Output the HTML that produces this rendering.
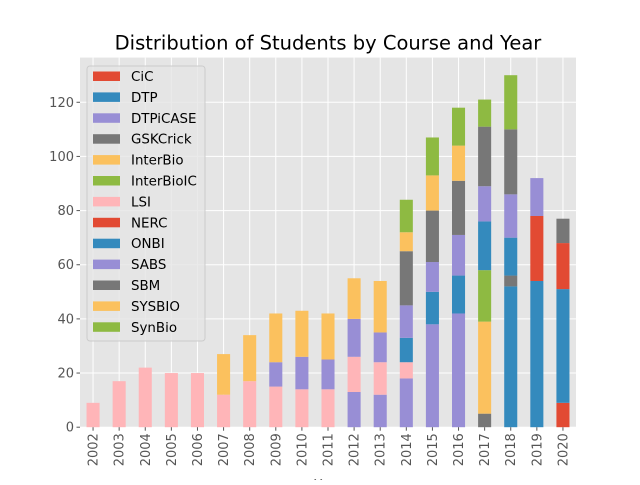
<!DOCTYPE html>
<html><head><meta charset="utf-8"><style>
body{margin:0;background:#fff;}
svg text{font-family:"DejaVu Sans","Liberation Sans",sans-serif;}
</style></head><body>
<svg id="chart" width="640" height="480" xmlns="http://www.w3.org/2000/svg">
<rect x="0" y="0" width="640" height="480" fill="#fff"/>
<rect x="80" y="57.6" width="496" height="369.6" fill="#E5E5E5"/>
<g id="grid"></g>
<g id="bars"></g>
<g id="axes"></g>
<text x="328" y="49.5" text-anchor="middle" font-size="19.5" fill="#000">Distribution of Students by Course and Year</text>
<text x="328" y="489" text-anchor="middle" font-size="13" fill="#555">Year</text>
<g id="legend"></g>
</svg>
<script>
const years = ["2002","2003","2004","2005","2006","2007","2008","2009","2010","2011","2012","2013","2014","2015","2016","2017","2018","2019","2020"];
const seriesNames = ["CiC","DTP","DTPiCASE","GSKCrick","InterBio","InterBioIC","LSI","NERC","ONBI","SABS","SBM","SYSBIO","SynBio"];
const seriesColors = ["#E24A33","#348ABD","#988ED5","#777777","#FBC15E","#8EBA42","#FFB5B8","#E24A33","#348ABD","#988ED5","#777777","#FBC15E","#8EBA42"];
const CiC =        [0,0,0,0,0,0,0,0,0,0,0,0,0,0,0,0,0,0,9];
const DTP =        [0,0,0,0,0,0,0,0,0,0,0,0,0,0,0,0,52,54,42];
const DTPiCASE =   [0,0,0,0,0,0,0,0,0,0,13,12,18,38,42,0,0,0,0];
const GSKCrick =   [0,0,0,0,0,0,0,0,0,0,0,0,0,0,0,5,4,0,0];
const InterBio =   [0,0,0,0,0,0,0,0,0,0,0,0,0,0,0,34,0,0,0];
const InterBioIC = [0,0,0,0,0,0,0,0,0,0,0,0,0,0,0,19,0,0,0];
const LSI =        [9,17,22,20,20,12,17,15,14,14,13,12,6,0,0,0,0,0,0];
const NERC =       [0,0,0,0,0,0,0,0,0,0,0,0,0,0,0,0,0,24,17];
const ONBI =       [0,0,0,0,0,0,0,0,0,0,0,0,9,12,14,18,14,0,0];
const SABS =       [0,0,0,0,0,0,0,9,12,11,14,11,12,11,15,13,16,14,0];
const SBM =        [0,0,0,0,0,0,0,0,0,0,0,0,20,19,20,22,24,0,9];
const SYSBIO =     [0,0,0,0,0,15,17,18,17,17,15,19,7,13,13,0,0,0,0];
const SynBio =     [0,0,0,0,0,0,0,0,0,0,0,0,12,14,14,10,20,0,0];
const yTicks = [0,20,40,60,80,100,120];
const series = [CiC,DTP,DTPiCASE,GSKCrick,InterBio,InterBioIC,LSI,NERC,ONBI,SABS,SBM,SYSBIO,SynBio];

const NS="http://www.w3.org/2000/svg";
const L=80,R=576,T=57.6,B=427.2;
const totals=years.map((_,i)=>series.reduce((s,a)=>s+a[i],0));
const yMax=Math.max(...totals)*1.05;
const step=(R-L)/years.length;
const xc=i=>L+step*(i+0.5);
const y=v=>B-v/yMax*(B-T);
function mk(tag,attrs,parent){const e=document.createElementNS(NS,tag);for(const k in attrs)e.setAttribute(k,attrs[k]);parent.appendChild(e);return e;}
const grid=document.getElementById('grid'),bars=document.getElementById('bars'),axes=document.getElementById('axes'),legend=document.getElementById('legend');
yTicks.forEach(t=>{
  const g=mk('line',{x1:L,x2:R,y1:y(t),y2:y(t),stroke:'#fff','stroke-width':1},grid);
  
  
  const tk=mk('line',{x1:L-3.5,x2:L,y1:y(t),y2:y(t),stroke:'#555'},axes);
  
  
  const tx=mk('text',{x:L-6,y:y(t)+4.5,'text-anchor':'end','font-size':13,fill:'#555'},axes);
  tx.textContent=t;
  
  
});
years.forEach((yr,i)=>{
  const g=mk('line',{x1:xc(i),x2:xc(i),y1:T,y2:B,stroke:'#fff','stroke-width':1},grid);
  
  
  const tk=mk('line',{x1:xc(i),x2:xc(i),y1:B,y2:B+3.5,stroke:'#555'},axes);
  
  
  const tx=mk('text',{x:0,y:0,'text-anchor':'end','font-size':13,fill:'#555',transform:`translate(${xc(i)+4.5},${B+6}) rotate(-90)`},axes);
  tx.textContent=yr;
  
  
  let base=0;
  series.forEach((s,k)=>{
    const v=s[i];
    if(v>0){
      const r=mk('rect',{x:xc(i)-step*0.25,width:step*0.5,y:y(base+v),height:y(base)-y(base+v),fill:seriesColors[k]},bars);
      
      
    }
    base+=v;
  });
});
const box=mk('rect',{x:87,y:66,width:118,height:275,rx:3,fill:'#E5E5E5','fill-opacity':0.8,stroke:'#CCCCCC'},legend);


seriesNames.forEach((n,k)=>{
  const yy=76+k*20.9;
  const p=mk('rect',{x:93,y:yy-4.5,width:27,height:9.5,fill:seriesColors[k]},legend);
  
  
  const t=mk('text',{x:131,y:yy+5,'font-size':13.4,fill:'#000'},legend);
  t.textContent=n;
  
  
});
</script>
</body></html>
